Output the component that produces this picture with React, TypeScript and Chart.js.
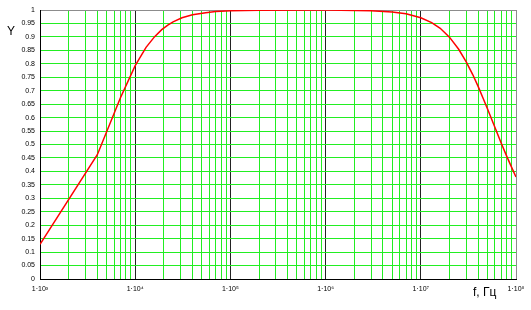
import React, { useEffect, useRef } from "react";
import { Chart, registerables } from "chart.js";

Chart.register(...registerables);

const freqs = [
  1000, 4000, 7000, 10000, 13000, 16000, 19000, 22000, 25000, 31000, 40000, 55000, 70000,
  100000, 200000, 1000000, 3000000, 5000000, 7000000, 10000000, 13000000, 16000000,
  20000000, 25000000, 30000000, 35000000, 40000000, 45000000, 50000000, 60000000,
  70000000, 80000000, 90000000, 100000000,
];
const yValues = [
  0.129, 0.462, 0.674, 0.793, 0.861, 0.901, 0.927, 0.944, 0.956, 0.971, 0.982, 0.99, 0.994,
  0.997, 0.999, 1.0, 0.997, 0.993, 0.986, 0.971, 0.953, 0.932,
  0.899, 0.854, 0.807, 0.761, 0.716, 0.673, 0.634, 0.564,
  0.505, 0.456, 0.415, 0.379,
];
const decadeValues = [1e3, 1e4, 1e5, 1e6, 1e7, 1e8];
const xTickLabels = ["1·10³", "1·10⁴", "1·10⁵", "1·10⁶", "1·10⁷", "1·10⁸"];
const minorMultipliers = [1, 2, 3, 4, 5, 6, 7, 8, 9];
const yAxisTitle = "Y";
const xAxisTitle = "f, Гц";

export default function App() {
  const ref = useRef<HTMLCanvasElement | null>(null);

  useEffect(() => {
    document.body.style.margin = "0";
    const canvas = ref.current;
    if (!canvas) return;

    const xTicks: number[] = [];
    for (let d = 0; d < decadeValues.length - 1; d++) {
      for (const m of minorMultipliers) xTicks.push(decadeValues[d] * m);
    }
    xTicks.push(decadeValues[decadeValues.length - 1]);

    const isDecade = (v: number) => decadeValues.some((d) => Math.abs(d - v) / d < 1e-6);

    const titlesPlugin = {
      id: "titles",
      afterDraw(chart: any) {
        const ctx = chart.ctx;
        ctx.save();
        ctx.fillStyle = "#000";
        ctx.font = '12px "Liberation Sans", Arial, sans-serif';
        ctx.textBaseline = "alphabetic";
        ctx.textAlign = "left";
        ctx.fillText(yAxisTitle, 7, 35);
        ctx.fillText(xAxisTitle, 473, 296);
        ctx.restore();
      },
    };

    const chart = new Chart(canvas, {
      type: "line",
      data: {
        datasets: [
          {
            data: freqs.map((f, i) => ({ x: f, y: yValues[i] })),
            borderColor: "#ff0000",
            borderWidth: 1.5,
            pointRadius: 0,
            tension: 0,
            fill: false,
          },
        ],
      },
      options: {
        animation: false,
        responsive: false,
        maintainAspectRatio: false,
        layout: { padding: { left: 0, right: 15, top: 10, bottom: 0 } },
        plugins: { legend: { display: false }, tooltip: { enabled: false } },
        scales: {
          x: {
            type: "logarithmic",
            min: 1e3,
            max: 1e8,
            afterBuildTicks: (scale: any) => {
              scale.ticks = xTicks.map((v) => ({ value: v }));
            },
            afterFit: (scale: any) => {
              scale.height = 31;
            },
            border: { display: true, color: "#000", width: 1 },
            grid: {
              drawTicks: false,
              lineWidth: 1,
              color: (ctx: any) => {
                const v = ctx.tick ? ctx.tick.value : 0;
                if (Math.abs(v - 1e8) < 1) return "#8c8c8c";
                return isDecade(v) ? "#222222" : "#22ee22";
              },
            },
            ticks: {
              autoSkip: false,
              maxRotation: 0,
              padding: 6,
              color: "#000",
              font: { size: 7, family: '"Liberation Sans", Arial, sans-serif' },
              callback: (value: any) => {
                const idx = decadeValues.findIndex((d) => Math.abs(d - Number(value)) / d < 1e-6);
                return idx >= 0 ? xTickLabels[idx] : "";
              },
            },
          },
          y: {
            type: "linear",
            min: 0,
            max: 1,
            afterFit: (scale: any) => {
              scale.width = 40;
            },
            border: { display: true, color: "#000", width: 1 },
            grid: {
              drawTicks: false,
              lineWidth: 1,
              color: (ctx: any) => {
                const v = ctx.tick ? ctx.tick.value : 0;
                if (Math.abs(v - 1) < 1e-6) return "#8c8c8c";
                return "#22ee22";
              },
            },
            ticks: {
              stepSize: 0.05,
              padding: 5,
              color: "#000",
              font: { size: 7, family: '"Liberation Sans", Arial, sans-serif' },
              callback: (value: any) => String(Math.round(Number(value) * 100) / 100),
            },
          },
        },
      },
      plugins: [titlesPlugin],
    });

    return () => chart.destroy();
  }, []);

  return (
    <div style={{ width: 531, height: 310, background: "#fff" }}>
      <canvas ref={ref} width={531} height={310} style={{ display: "block" }} />
    </div>
  );
}
